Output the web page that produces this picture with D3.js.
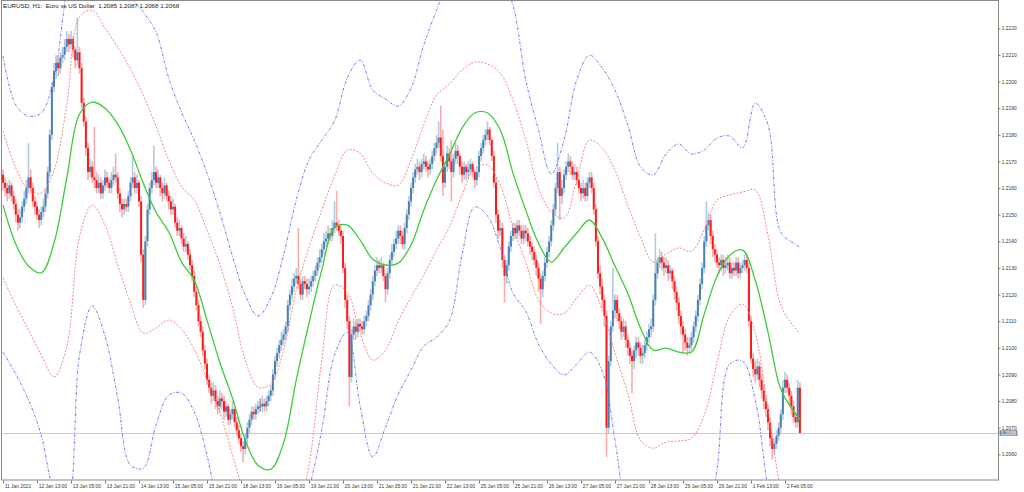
<!DOCTYPE html>
<html>
<head>
<meta charset="utf-8">
<script src="https://cdn.jsdelivr.net/npm/d3@7"></script>
<style>
  html, body { margin: 0; padding: 0; background: #fff; }
  svg { display: block; }
</style>
</head>
<body>
<div id="chart"></div>
<script>
const title = "EURUSD, H1:  Euro vs US Dollar  1.2085 1.2087 1.2068 1.2068";

const timeLabels = ["11 Jan 2021", "12 Jan 13:00", "13 Jan 05:00", "13 Jan 21:00", "14 Jan 13:00",
  "15 Jan 05:00", "15 Jan 21:00", "18 Jan 13:00", "19 Jan 05:00", "19 Jan 21:00", "20 Jan 13:00",
  "21 Jan 05:00", "21 Jan 21:00", "22 Jan 13:00", "25 Jan 05:00", "25 Jan 21:00", "26 Jan 13:00",
  "27 Jan 05:00", "27 Jan 21:00", "28 Jan 13:00", "29 Jan 05:00", "29 Jan 21:00", "1 Feb 13:00",
  "2 Feb 05:00"];
const barsPerLabel = 16;

const priceTicks = [1.2060, 1.2070, 1.2080, 1.2090, 1.2100, 1.2110, 1.2120, 1.2130, 1.2140,
  1.2150, 1.2160, 1.2170, 1.2180, 1.2190, 1.2200, 1.2210, 1.2220];
const lastPrice = 1.2068;

// hourly candles, 11 Jan 21:00 .. 2 Feb 11:00
const opens = [
  1.2165,1.2162,1.2160,1.2158,1.2161,1.2157,1.2154,1.2150,1.2147,1.2149,
  1.2153,1.2156,1.2160,1.2164,1.2160,1.2155,1.2153,1.2150,1.2148,1.2151,
  1.2153,1.2158,1.2166,1.2180,1.2198,1.2204,1.2207,1.2205,1.2209,1.2210,
  1.2213,1.2216,1.2214,1.2216,1.2212,1.2208,1.2211,1.2205,1.2192,1.2185,
  1.2175,1.2166,1.2168,1.2164,1.2163,1.2160,1.2162,1.2158,1.2161,1.2164,
  1.2162,1.2160,1.2163,1.2165,1.2164,1.2158,1.2154,1.2152,1.2154,1.2153,
  1.2157,1.2162,1.2164,1.2160,1.2162,1.2155,1.2135,1.2118,1.2140,1.2152,
  1.2160,1.2163,1.2166,1.2162,1.2164,1.2160,1.2158,1.2161,1.2157,1.2155,
  1.2152,1.2153,1.2147,1.2144,1.2145,1.2141,1.2138,1.2139,1.2135,1.2131,
  1.2127,1.2121,1.2116,1.2110,1.2106,1.2099,1.2094,1.2088,1.2085,1.2082,
  1.2084,1.2080,1.2078,1.2081,1.2080,1.2076,1.2078,1.2073,1.2075,1.2077,
  1.2072,1.2069,1.2066,1.2063,1.2062,1.2066,1.2070,1.2073,1.2076,1.2075,
  1.2077,1.2078,1.2078,1.2079,1.2078,1.2080,1.2082,1.2084,1.2090,1.2095,
  1.2098,1.2101,1.2103,1.2105,1.2108,1.2116,1.2120,1.2123,1.2126,1.2127,
  1.2124,1.2120,1.2125,1.2124,1.2122,1.2123,1.2125,1.2127,1.2129,1.2132,
  1.2134,1.2137,1.2140,1.2141,1.2143,1.2142,1.2145,1.2147,1.2146,1.2144,
  1.2142,1.2130,1.2118,1.2110,1.2089,1.2105,1.2108,1.2106,1.2109,1.2108,
  1.2107,1.2110,1.2112,1.2116,1.2120,1.2125,1.2129,1.2131,1.2130,1.2131,
  1.2127,1.2122,1.2128,1.2133,1.2136,1.2139,1.2141,1.2144,1.2142,1.2139,
  1.2145,1.2150,1.2155,1.2160,1.2164,1.2167,1.2168,1.2166,1.2169,1.2170,
  1.2168,1.2167,1.2169,1.2172,1.2175,1.2177,1.2179,1.2172,1.2162,1.2168,
  1.2173,1.2170,1.2166,1.2171,1.2174,1.2172,1.2168,1.2165,1.2168,1.2166,
  1.2167,1.2169,1.2166,1.2163,1.2166,1.2172,1.2175,1.2178,1.2180,1.2182,
  1.2178,1.2172,1.2162,1.2150,1.2144,1.2145,1.2133,1.2127,1.2131,1.2138,
  1.2142,1.2145,1.2143,1.2146,1.2144,1.2141,1.2144,1.2143,1.2140,1.2138,
  1.2136,1.2133,1.2130,1.2126,1.2122,1.2127,1.2132,1.2136,1.2140,1.2146,
  1.2152,1.2160,1.2166,1.2157,1.2160,1.2165,1.2168,1.2170,1.2168,1.2165,
  1.2166,1.2163,1.2160,1.2158,1.2160,1.2157,1.2162,1.2164,1.2160,1.2152,
  1.2140,1.2128,1.2123,1.2118,1.2112,1.2070,1.2095,1.2108,1.2114,1.2118,
  1.2113,1.2110,1.2106,1.2108,1.2103,1.2100,1.2097,1.2095,1.2099,1.2102,
  1.2100,1.2097,1.2098,1.2101,1.2104,1.2107,1.2108,1.2118,1.2128,1.2132,
  1.2134,1.2132,1.2130,1.2131,1.2128,1.2129,1.2125,1.2121,1.2117,1.2112,
  1.2108,1.2105,1.2102,1.2100,1.2101,1.2104,1.2108,1.2112,1.2118,1.2124,
  1.2130,1.2140,1.2146,1.2148,1.2142,1.2137,1.2135,1.2132,1.2131,1.2133,
  1.2130,1.2131,1.2132,1.2128,1.2130,1.2129,1.2132,1.2128,1.2130,1.2131,
  1.2133,1.2130,1.2110,1.2096,1.2092,1.2090,1.2093,1.2088,1.2084,1.2080,
  1.2077,1.2072,1.2066,1.2062,1.2064,1.2067,1.2070,1.2075,1.2085,1.2088,
  1.2085,1.2082,1.2078,1.2074,1.2072,1.2085
];
const highs = [
  1.2167,1.2164,1.2162,1.2163,1.2162,1.2159,1.2156,1.2152,1.2152,1.2155,
  1.2159,1.2163,1.2177,1.2167,1.2162,1.2157,1.2155,1.2152,1.2153,1.2156,
  1.2160,1.2168,1.2182,1.2200,1.2207,1.2210,1.2209,1.2211,1.2213,1.2216,
  1.2219,1.2218,1.2219,1.2217,1.2213,1.2224,1.2213,1.2207,1.2194,1.2187,
  1.2177,1.2171,1.2170,1.2183,1.2166,1.2165,1.2164,1.2163,1.2167,1.2166,
  1.2164,1.2166,1.2168,1.2173,1.2166,1.2160,1.2156,1.2156,1.2156,1.2159,
  1.2164,1.2172,1.2166,1.2165,1.2163,1.2157,1.2137,1.2142,1.2154,1.2162,
  1.2166,1.2176,1.2168,1.2167,1.2165,1.2162,1.2164,1.2162,1.2159,1.2157,
  1.2156,1.2154,1.2149,1.2148,1.2146,1.2143,1.2142,1.2140,1.2137,1.2133,
  1.2129,1.2123,1.2118,1.2112,1.2108,1.2101,1.2096,1.2090,1.2087,1.2087,
  1.2086,1.2082,1.2084,1.2083,1.2082,1.2080,1.2079,1.2077,1.2080,1.2078,
  1.2074,1.2071,1.2068,1.2065,1.2068,1.2072,1.2075,1.2078,1.2078,1.2079,
  1.2080,1.2081,1.2082,1.2081,1.2082,1.2084,1.2086,1.2092,1.2097,1.2100,
  1.2103,1.2106,1.2107,1.2110,1.2118,1.2122,1.2126,1.2128,1.2130,1.2145,
  1.2126,1.2127,1.2127,1.2126,1.2126,1.2127,1.2129,1.2131,1.2134,1.2137,
  1.2139,1.2143,1.2144,1.2146,1.2145,1.2148,1.2155,1.2159,1.2148,1.2146,
  1.2144,1.2132,1.2120,1.2112,1.2107,1.2111,1.2110,1.2111,1.2111,1.2110,
  1.2112,1.2114,1.2118,1.2122,1.2127,1.2131,1.2134,1.2133,1.2134,1.2132,
  1.2128,1.2130,1.2135,1.2139,1.2141,1.2144,1.2146,1.2146,1.2144,1.2147,
  1.2152,1.2157,1.2162,1.2166,1.2169,1.2171,1.2170,1.2171,1.2173,1.2172,
  1.2170,1.2171,1.2174,1.2177,1.2180,1.2185,1.2191,1.2182,1.2170,1.2176,
  1.2175,1.2178,1.2173,1.2177,1.2176,1.2173,1.2170,1.2170,1.2169,1.2170,
  1.2171,1.2170,1.2167,1.2168,1.2174,1.2177,1.2180,1.2182,1.2185,1.2183,
  1.2179,1.2174,1.2164,1.2152,1.2148,1.2147,1.2135,1.2133,1.2140,1.2144,
  1.2147,1.2147,1.2148,1.2148,1.2146,1.2146,1.2146,1.2145,1.2142,1.2140,
  1.2138,1.2135,1.2132,1.2128,1.2129,1.2134,1.2138,1.2142,1.2148,1.2154,
  1.2162,1.2177,1.2168,1.2163,1.2167,1.2170,1.2173,1.2172,1.2170,1.2169,
  1.2168,1.2165,1.2162,1.2163,1.2162,1.2164,1.2166,1.2166,1.2162,1.2154,
  1.2142,1.2131,1.2126,1.2120,1.2114,1.2097,1.2110,1.2130,1.2120,1.2120,
  1.2115,1.2112,1.2111,1.2110,1.2105,1.2102,1.2099,1.2101,1.2104,1.2104,
  1.2102,1.2101,1.2103,1.2106,1.2109,1.2111,1.2120,1.2143,1.2134,1.2137,
  1.2136,1.2134,1.2134,1.2133,1.2131,1.2130,1.2127,1.2123,1.2119,1.2114,
  1.2110,1.2107,1.2104,1.2104,1.2106,1.2110,1.2114,1.2120,1.2126,1.2132,
  1.2142,1.2155,1.2151,1.2150,1.2144,1.2139,1.2137,1.2134,1.2135,1.2135,
  1.2134,1.2135,1.2134,1.2132,1.2132,1.2134,1.2134,1.2132,1.2133,1.2135,
  1.2135,1.2132,1.2112,1.2098,1.2095,1.2096,1.2095,1.2090,1.2086,1.2082,
  1.2079,1.2074,1.2068,1.2066,1.2069,1.2072,1.2077,1.2088,1.2091,1.2090,
  1.2087,1.2084,1.2080,1.2076,1.2088,1.2087
];
const lows = [
  1.2159,1.2157,1.2155,1.2156,1.2155,1.2152,1.2147,1.2144,1.2145,1.2147,
  1.2151,1.2154,1.2158,1.2158,1.2153,1.2150,1.2148,1.2145,1.2146,1.2149,
  1.2151,1.2156,1.2164,1.2178,1.2196,1.2201,1.2202,1.2203,1.2207,1.2208,
  1.2211,1.2211,1.2212,1.2209,1.2205,1.2206,1.2203,1.2190,1.2183,1.2172,
  1.2163,1.2164,1.2162,1.2160,1.2158,1.2158,1.2156,1.2156,1.2159,1.2160,
  1.2158,1.2158,1.2161,1.2162,1.2156,1.2151,1.2149,1.2150,1.2151,1.2151,
  1.2155,1.2160,1.2158,1.2158,1.2153,1.2132,1.2115,1.2116,1.2138,1.2150,
  1.2158,1.2161,1.2160,1.2160,1.2157,1.2155,1.2156,1.2155,1.2152,1.2150,
  1.2150,1.2145,1.2142,1.2142,1.2139,1.2136,1.2136,1.2133,1.2129,1.2125,
  1.2119,1.2114,1.2108,1.2104,1.2097,1.2092,1.2086,1.2083,1.2079,1.2080,
  1.2077,1.2075,1.2076,1.2077,1.2073,1.2074,1.2071,1.2071,1.2073,1.2070,
  1.2067,1.2064,1.2061,1.2057,1.2060,1.2064,1.2068,1.2071,1.2073,1.2073,
  1.2075,1.2076,1.2076,1.2076,1.2076,1.2078,1.2080,1.2082,1.2088,1.2093,
  1.2096,1.2099,1.2101,1.2103,1.2106,1.2114,1.2118,1.2121,1.2124,1.2122,
  1.2118,1.2118,1.2122,1.2119,1.2120,1.2121,1.2123,1.2125,1.2127,1.2130,
  1.2132,1.2135,1.2138,1.2139,1.2140,1.2140,1.2143,1.2144,1.2142,1.2139,
  1.2128,1.2115,1.2107,1.2078,1.2087,1.2103,1.2103,1.2104,1.2106,1.2105,
  1.2105,1.2108,1.2110,1.2114,1.2118,1.2123,1.2127,1.2128,1.2128,1.2125,
  1.2117,1.2120,1.2126,1.2131,1.2134,1.2137,1.2139,1.2139,1.2137,1.2137,
  1.2143,1.2148,1.2153,1.2158,1.2162,1.2165,1.2163,1.2164,1.2167,1.2166,
  1.2164,1.2165,1.2167,1.2170,1.2173,1.2175,1.2170,1.2157,1.2160,1.2166,
  1.2167,1.2155,1.2164,1.2169,1.2169,1.2165,1.2162,1.2163,1.2163,1.2164,
  1.2165,1.2164,1.2160,1.2161,1.2164,1.2170,1.2173,1.2176,1.2178,1.2176,
  1.2170,1.2160,1.2147,1.2141,1.2142,1.2130,1.2117,1.2124,1.2129,1.2136,
  1.2140,1.2141,1.2141,1.2142,1.2139,1.2139,1.2140,1.2138,1.2135,1.2133,
  1.2131,1.2127,1.2121,1.2109,1.2119,1.2125,1.2130,1.2134,1.2138,1.2144,
  1.2150,1.2158,1.2148,1.2154,1.2158,1.2163,1.2166,1.2165,1.2163,1.2163,
  1.2161,1.2158,1.2155,1.2156,1.2155,1.2155,1.2160,1.2158,1.2150,1.2138,
  1.2126,1.2120,1.2115,1.2108,1.2059,1.2068,1.2093,1.2106,1.2111,1.2110,
  1.2107,1.2103,1.2104,1.2100,1.2097,1.2094,1.2083,1.2092,1.2096,1.2097,
  1.2094,1.2094,1.2096,1.2099,1.2102,1.2104,1.2106,1.2116,1.2126,1.2130,
  1.2129,1.2127,1.2128,1.2125,1.2126,1.2122,1.2118,1.2114,1.2109,1.2105,
  1.2098,1.2099,1.2097,1.2098,1.2099,1.2102,1.2106,1.2110,1.2116,1.2122,
  1.2128,1.2138,1.2144,1.2139,1.2134,1.2132,1.2130,1.2128,1.2129,1.2127,
  1.2128,1.2129,1.2126,1.2126,1.2127,1.2127,1.2126,1.2126,1.2128,1.2129,
  1.2128,1.2108,1.2094,1.2089,1.2087,1.2088,1.2085,1.2081,1.2077,1.2074,
  1.2069,1.2063,1.2058,1.2060,1.2062,1.2065,1.2068,1.2073,1.2083,1.2083,
  1.2079,1.2075,1.2072,1.2070,1.2070,1.2068
];
const closes = [
  1.2162,1.2160,1.2158,1.2161,1.2157,1.2154,1.2150,1.2147,1.2149,1.2153,
  1.2156,1.2160,1.2164,1.2160,1.2155,1.2153,1.2150,1.2148,1.2151,1.2153,
  1.2158,1.2166,1.2180,1.2198,1.2204,1.2207,1.2205,1.2209,1.2210,1.2213,
  1.2216,1.2214,1.2216,1.2212,1.2208,1.2211,1.2205,1.2192,1.2185,1.2175,
  1.2166,1.2168,1.2164,1.2163,1.2160,1.2162,1.2158,1.2161,1.2164,1.2162,
  1.2160,1.2163,1.2165,1.2164,1.2158,1.2154,1.2152,1.2154,1.2153,1.2157,
  1.2162,1.2164,1.2160,1.2162,1.2155,1.2135,1.2118,1.2140,1.2152,1.2160,
  1.2163,1.2166,1.2162,1.2164,1.2160,1.2158,1.2161,1.2157,1.2155,1.2152,
  1.2153,1.2147,1.2144,1.2145,1.2141,1.2138,1.2139,1.2135,1.2131,1.2127,
  1.2121,1.2116,1.2110,1.2106,1.2099,1.2094,1.2088,1.2085,1.2082,1.2084,
  1.2080,1.2078,1.2081,1.2080,1.2076,1.2078,1.2073,1.2075,1.2077,1.2072,
  1.2069,1.2066,1.2063,1.2062,1.2066,1.2070,1.2073,1.2076,1.2075,1.2077,
  1.2078,1.2078,1.2079,1.2078,1.2080,1.2082,1.2084,1.2090,1.2095,1.2098,
  1.2101,1.2103,1.2105,1.2108,1.2116,1.2120,1.2123,1.2126,1.2127,1.2124,
  1.2120,1.2125,1.2124,1.2122,1.2123,1.2125,1.2127,1.2129,1.2132,1.2134,
  1.2137,1.2140,1.2141,1.2143,1.2142,1.2145,1.2147,1.2146,1.2144,1.2142,
  1.2130,1.2118,1.2110,1.2089,1.2105,1.2108,1.2106,1.2109,1.2108,1.2107,
  1.2110,1.2112,1.2116,1.2120,1.2125,1.2129,1.2131,1.2130,1.2131,1.2127,
  1.2122,1.2128,1.2133,1.2136,1.2139,1.2141,1.2144,1.2142,1.2139,1.2145,
  1.2150,1.2155,1.2160,1.2164,1.2167,1.2168,1.2166,1.2169,1.2170,1.2168,
  1.2167,1.2169,1.2172,1.2175,1.2177,1.2179,1.2172,1.2162,1.2168,1.2173,
  1.2170,1.2166,1.2171,1.2174,1.2172,1.2168,1.2165,1.2168,1.2166,1.2167,
  1.2169,1.2166,1.2163,1.2166,1.2172,1.2175,1.2178,1.2180,1.2182,1.2178,
  1.2172,1.2162,1.2150,1.2144,1.2145,1.2133,1.2127,1.2131,1.2138,1.2142,
  1.2145,1.2143,1.2146,1.2144,1.2141,1.2144,1.2143,1.2140,1.2138,1.2136,
  1.2133,1.2130,1.2126,1.2122,1.2127,1.2132,1.2136,1.2140,1.2146,1.2152,
  1.2160,1.2166,1.2157,1.2160,1.2165,1.2168,1.2170,1.2168,1.2165,1.2166,
  1.2163,1.2160,1.2158,1.2160,1.2157,1.2162,1.2164,1.2160,1.2152,1.2140,
  1.2128,1.2123,1.2118,1.2112,1.2070,1.2095,1.2108,1.2114,1.2118,1.2113,
  1.2110,1.2106,1.2108,1.2103,1.2100,1.2097,1.2095,1.2099,1.2102,1.2100,
  1.2097,1.2098,1.2101,1.2104,1.2107,1.2108,1.2118,1.2128,1.2132,1.2134,
  1.2132,1.2130,1.2131,1.2128,1.2129,1.2125,1.2121,1.2117,1.2112,1.2108,
  1.2105,1.2102,1.2100,1.2101,1.2104,1.2108,1.2112,1.2118,1.2124,1.2130,
  1.2140,1.2146,1.2148,1.2142,1.2137,1.2135,1.2132,1.2131,1.2133,1.2130,
  1.2131,1.2132,1.2128,1.2130,1.2129,1.2132,1.2128,1.2130,1.2131,1.2133,
  1.2130,1.2110,1.2096,1.2092,1.2090,1.2093,1.2088,1.2084,1.2080,1.2077,
  1.2072,1.2066,1.2062,1.2064,1.2067,1.2070,1.2075,1.2085,1.2088,1.2085,
  1.2082,1.2078,1.2074,1.2072,1.2085,1.2068
];

// indicator envelopes, read every 6th bar
const bandBars = [0,6,12,18,24,30,36,42,48,54,60,66,72,78,84,90,96,102,108,114,120,126,132,138,
  144,150,156,162,168,174,180,186,192,198,204,210,216,222,228,234,240,246,252,258,264,270,276,
  282,288,294,300,306,312,318,324,330,336,342,348,354,360,366,372,375];
const midBand = [
  1.21536,1.21390,1.21307,1.21281,1.21393,1.21637,1.21878,1.21923,1.21900,1.21840,
  1.21743,1.21619,1.21510,1.21435,1.21322,1.21254,1.21104,1.20946,1.20811,1.20653,
  1.20559,1.20544,1.20642,1.20879,1.21093,1.21292,1.21450,1.21461,1.21405,1.21333,
  1.21311,1.21318,1.21386,1.21517,1.21630,1.21724,1.21825,1.21882,1.21882,1.21818,
  1.21656,1.21517,1.21393,1.21322,1.21375,1.21431,1.21480,1.21412,1.21307,1.21205,
  1.21074,1.20991,1.20999,1.20984,1.20984,1.21127,1.21269,1.21348,1.21367,1.21254,
  1.21059,1.20845,1.20762,1.20732
];
const upperInner = [
  1.21814,1.21675,1.21596,1.21581,1.21667,1.21912,1.22242,1.22268,1.22201,1.22129,
  1.22047,1.21949,1.21833,1.21705,1.21607,1.21555,1.21442,1.21314,1.21153,1.20954,
  1.20852,1.20864,1.20991,1.21217,1.21378,1.21517,1.21645,1.21743,1.21731,1.21656,
  1.21619,1.21611,1.21705,1.21837,1.21949,1.21990,1.22043,1.22073,1.22066,1.22032,
  1.21930,1.21780,1.21600,1.21510,1.21487,1.21630,1.21780,1.21750,1.21667,1.21536,
  1.21416,1.21322,1.21352,1.21375,1.21363,1.21442,1.21555,1.21574,1.21585,1.21592,
  1.21423,1.21160,1.21082,1.21055
];
const lowerInner = [
  1.21262,1.21160,1.21067,1.20973,1.20890,1.21003,1.21416,1.21536,1.21461,1.21311,
  1.21168,1.21055,1.21074,1.21104,1.21070,1.20995,1.20879,1.20759,1.20597,1.20439,
  1.20315,1.20259,1.20259,1.20372,1.20559,1.20954,1.21235,1.21209,1.21055,1.20954,
  1.20991,1.21100,1.21190,1.21273,1.21367,1.21453,1.21574,1.21675,1.21686,1.21611,
  1.21453,1.21322,1.21179,1.21130,1.21130,1.21187,1.21235,1.21142,1.20980,1.20830,
  1.20653,1.20623,1.20646,1.20650,1.20661,1.20747,1.20943,1.21119,1.21164,1.21055,
  1.20766,1.20466,1.20278,1.20203
];
const upperOuter = [
  1.22096,1.21912,1.21870,1.21882,1.22013,1.22344,1.22569,1.22682,1.22682,1.22569,
  1.22325,1.22261,1.22186,1.22013,1.21885,1.21780,1.21656,1.21510,1.21344,1.21198,
  1.21119,1.21187,1.21348,1.21555,1.21705,1.21780,1.21852,1.22013,1.22081,1.21968,
  1.21934,1.21908,1.21975,1.22137,1.22268,1.22381,1.22456,1.22475,1.22456,1.22400,
  1.22287,1.22006,1.21818,1.21652,1.21780,1.22006,1.22099,1.22051,1.21968,1.21837,
  1.21680,1.21649,1.21728,1.21765,1.21728,1.21743,1.21788,1.21795,1.21750,1.21919,
  1.21837,1.21434,1.21393,1.21378
];
const lowerOuter = [
  1.20984,1.20901,1.20804,1.20672,1.20466,1.20409,1.20973,1.21157,1.21044,1.20811,
  1.20559,1.20548,1.20710,1.20822,1.20830,1.20759,1.20597,1.20353,1.20165,1.20052,
  1.20014,1.20014,1.20090,1.20278,1.20466,1.20691,1.20973,1.21059,1.20785,1.20590,
  1.20702,1.20826,1.20916,1.21006,1.21040,1.21100,1.21348,1.21529,1.21495,1.21374,
  1.21205,1.21138,1.21014,1.20939,1.20898,1.20939,1.20984,1.20913,1.20653,1.20315,
  1.20128,1.20052,1.20014,1.20034,1.20128,1.20278,1.20541,1.20939,1.20950,1.20804,
  1.20466,1.20203,1.20052,1.20014
];

draw(document.getElementById("chart"));

function draw(el) {
  const width = 1024, height = 492;
  // plot frame, price axis at the right, time axis at the bottom
  const frame = { left: 1, top: 1, right: 998, bottom: 480 };
  const font = "'Liberation Sans', Arial, sans-serif";
  const axisFont = "4.9px";

  const svg = d3.select(el).append("svg")
    .attr("width", width)
    .attr("height", height);

  const x = d3.scaleLinear()
    .domain([0, closes.length - 1])
    .range([3, 3 + (closes.length - 1) * 2.125]);
  const y = d3.scaleLinear()
    .domain([1.2060, 1.2220])
    .range([454.3, 28.3]);

  svg.append("clipPath").attr("id", "plot-clip")
    .append("rect")
    .attr("x", frame.left).attr("y", frame.top)
    .attr("width", frame.right - frame.left).attr("height", frame.bottom - frame.top);

  const plot = svg.append("g").attr("clip-path", "url(#plot-clip)");

  // current price line
  plot.append("line")
    .attr("x1", frame.left).attr("x2", frame.right)
    .attr("y1", Math.round(y(lastPrice)) + 0.5).attr("y2", Math.round(y(lastPrice)) + 0.5)
    .attr("stroke", "#c3ccd6")
    .attr("stroke-width", 1);

  // candles
  const bars = d3.range(closes.length).map(i => ({
    i, o: opens[i], h: highs[i], l: lows[i], c: closes[i]
  }));
  const kind = d => d.c > d.o ? "up" : d.c < d.o ? "down" : "flat";
  const wickColor = { up: "#b3cbe2", down: "#f8acac", flat: "#a0a0a0" };
  const bodyColor = { up: "#4a7fb6", down: "#ff1a1a", flat: "#555" };

  plot.append("g")
    .selectAll("line")
    .data(bars)
    .join("line")
    .attr("x1", d => x(d.i)).attr("x2", d => x(d.i))
    .attr("y1", d => y(d.h)).attr("y2", d => y(d.l))
    .attr("stroke", d => wickColor[kind(d)])
    .attr("stroke-width", 1.6);

  plot.append("g")
    .selectAll("rect")
    .data(bars)
    .join("rect")
    .attr("x", d => x(d.i) - 1)
    .attr("width", 2)
    .attr("y", d => y(Math.max(d.o, d.c)))
    .attr("height", d => Math.max(1, Math.abs(y(d.o) - y(d.c))))
    .attr("fill", d => bodyColor[kind(d)]);

  // envelopes
  const bandLine = d3.line()
    .x((d, k) => x(bandBars[k]))
    .y(d => y(d))
    .curve(d3.curveCatmullRom);

  const bands = [
    { values: upperOuter, color: "#6a6aee", width: 0.9, dash: "3,1.5,1,1.5" },
    { values: lowerOuter, color: "#6a6aee", width: 0.9, dash: "3,1.5,1,1.5" },
    { values: upperInner, color: "#f27a7a", width: 0.9, dash: "2,1.5" },
    { values: lowerInner, color: "#f27a7a", width: 0.9, dash: "2,1.5" },
    { values: midBand, color: "#3ccc3c", width: 1.3, dash: null },
  ];
  plot.append("g")
    .selectAll("path")
    .data(bands)
    .join("path")
    .attr("d", d => bandLine(d.values))
    .attr("fill", "none")
    .attr("stroke", d => d.color)
    .attr("stroke-width", d => d.width)
    .attr("stroke-dasharray", d => d.dash);

  // frame
  svg.append("rect")
    .attr("x", frame.left + 0.5).attr("y", frame.top - 0.5)
    .attr("width", frame.right - frame.left).attr("height", frame.bottom - frame.top + 0.5)
    .attr("fill", "none")
    .attr("stroke", "#8a8a8a")
    .attr("stroke-width", 1);

  // price axis
  const yAxis = svg.append("g")
    .attr("transform", `translate(${frame.right + 0.5},0)`)
    .call(d3.axisRight(y).tickValues(priceTicks).tickFormat(d3.format(".4f"))
      .tickSize(2).tickPadding(1.2).tickSizeOuter(0));
  yAxis.select(".domain").remove();
  yAxis.selectAll("line").attr("stroke", "#777");
  yAxis.selectAll("text")
    .attr("font-family", font).attr("font-size", axisFont).attr("fill", "#333");

  // last price tag
  const tag = svg.append("g")
    .attr("transform", `translate(${frame.right + 1.5},${y(lastPrice)})`);
  tag.append("rect")
    .attr("x", 0).attr("y", -2.8).attr("width", 18).attr("height", 5.6)
    .attr("fill", "#7d91a8");
  tag.append("text")
    .attr("x", 1.5).attr("y", 0).attr("dy", "0.35em")
    .attr("font-family", font).attr("font-size", axisFont).attr("fill", "#fff")
    .text(d3.format(".4f")(lastPrice));

  // time axis
  const labelBars = timeLabels.map((t, k) => k * barsPerLabel);
  const xAxis = svg.append("g")
    .attr("transform", `translate(0,${frame.bottom + 0.5})`)
    .call(d3.axisBottom(x).tickValues(labelBars).tickFormat((d, k) => timeLabels[k])
      .tickSize(3).tickSizeOuter(0));
  xAxis.select(".domain").remove();
  xAxis.selectAll("line").attr("stroke", "#777");
  xAxis.selectAll("text")
    .attr("font-family", font).attr("font-size", axisFont).attr("fill", "#333")
    .attr("text-anchor", "start")
    .attr("x", 1.2).attr("y", 3.6).attr("dy", "0.71em");

  // title
  svg.append("text")
    .attr("x", 3).attr("y", 7.5)
    .attr("font-family", font).attr("font-size", "6.2px").attr("fill", "#222")
    .style("white-space", "pre")
    .text(title);
}
</script>
</body>
</html>
